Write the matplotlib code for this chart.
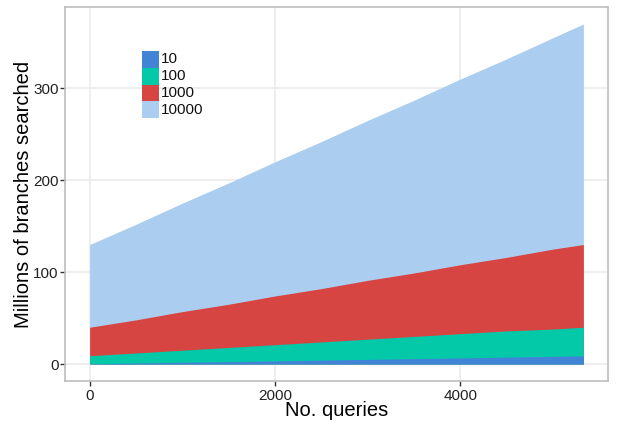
import matplotlib
matplotlib.use("Agg")
import matplotlib.pyplot as plt
from matplotlib.patches import Rectangle

plt.rcParams["font.family"] = ["Liberation Sans", "DejaVu Sans"]

# branches searched (millions) per query count, one series per batch size
queries = [0, 500, 1000, 1500, 2000, 2500, 3000, 3500, 4000, 4500, 5000, 5330]
b10 = [0.3, 1.1, 1.9, 2.6, 3.4, 4.2, 5.0, 5.8, 6.6, 7.5, 8.3, 8.8]
b100 = [9, 12, 15, 18, 21, 24, 27, 30, 33, 36, 38, 40]
b1000 = [40, 48, 57, 65, 74, 82, 91, 99, 108, 116, 125, 130]
b10000 = [130, 152, 175, 197, 220, 242, 265, 287, 310, 332, 355, 370]

labels = ["10", "100", "1000", "10000"]
colors = ["#4183D7", "#03C9A9", "#D64541", "#ABCDF0"]
series = [b10, b100, b1000, b10000]

W, H = 621, 424
fig = plt.figure(figsize=(W / 100, H / 100), dpi=100)
ax = fig.add_axes([65 / W, 1 - 381 / H, 543 / W, 374 / H])

# largest first so the smaller ones sit on top
for vals, color in reversed(list(zip(series, colors))):
    ax.fill_between(queries, 0, vals, color=color, lw=0, zorder=2)

ax.set_xlim(-266, 5596)
ax.set_ylim(-18.5, 388.5)
ax.set_xticks([0, 2000, 4000])
ax.set_yticks([0, 100, 200, 300])
ax.grid(True, color="#EBEBEB", lw=1.2, zorder=0)
ax.set_axisbelow(True)
for sp in ax.spines.values():
    sp.set_color("#BDBDBD")
    sp.set_linewidth(1.2)
ax.tick_params(length=3.6, width=1, color="#333333", labelsize=11,
               labelcolor="#222222")
ax.tick_params(axis="y", pad=1)
ax.tick_params(axis="x", pad=2)

ax.set_xlabel("No. queries", fontsize=14.5, labelpad=-1)
ax.set_ylabel("Millions of branches searched", fontsize=14.5, labelpad=0)

# legend keys stacked without gaps, drawn in pixel positions
for i, (lab, c) in enumerate(zip(labels, colors)):
    y0 = 51 + 16.8 * i
    fig.patches.append(Rectangle((142 / W, 1 - (y0 + 16.8) / H), 17 / W, 16.8 / H,
                                 transform=fig.transFigure, facecolor=c,
                                 edgecolor="none", zorder=5))
    fig.text(160.5 / W, 1 - (y0 + 8.4) / H, lab, fontsize=11, va="center",
             ha="left", color="#111111")

fig.savefig("out.png", dpi=100)
